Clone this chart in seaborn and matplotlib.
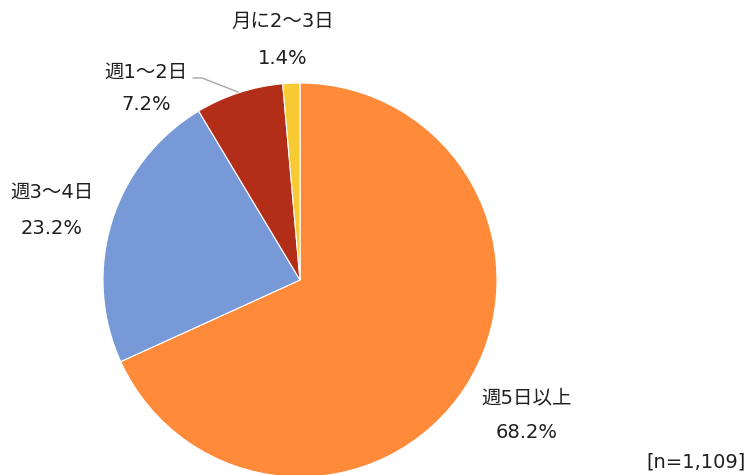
import numpy as np
import matplotlib
matplotlib.use('Agg')
import matplotlib.pyplot as plt
import seaborn as sns

# 勤務頻度の内訳 (n=1,109)
categories = ['週5日以上', '週3～4日', '週1～2日', '月に2～3日']
shares = [68.2, 23.2, 7.2, 1.4]
colors = ['#FF8A3A', '#7799D8', '#B22E18', '#F7C933']
n_label = '[n=1,109]'

sns.set_theme(style='white')
# Verdana-like Latin glyphs, CJK falls through to Noto
plt.rcParams['font.family'] = ['DejaVu Sans', 'Noto Sans CJK JP']

W, H = 750, 475
fig = plt.figure(figsize=(W / 100, H / 100), dpi=100)
ax = fig.add_axes([0, 0, 1, 1])

# pie in pixel space (y measured from bottom)
cx, cy, r = 300, H - 280, 197
ax.pie(shares, colors=sns.color_palette(colors), startangle=90, counterclock=False,
       center=(cx, cy), radius=r,
       wedgeprops={'edgecolor': 'white', 'linewidth': 0.8})
ax.set_xlim(0, W)
ax.set_ylim(0, H)
ax.set_aspect('equal')
ax.axis('off')

# label anchor positions (pixels from top-left)
label_pos = {
    '週5日以上': (527, 398, 433),
    '週3～4日': (52, 192, 228),
    '週1～2日': (146, 72, 104),
    '月に2～3日': (283, 21, 58),
}
fs = 14
for cat, val in zip(categories, shares):
    x, y1, y2 = label_pos[cat]
    ax.text(x, H - y1, cat, ha='center', va='center', fontsize=fs, color='#1f1f1f')
    ax.text(x, H - y2, f'{val:.1f}%', ha='center', va='center', fontsize=fs, color='#1f1f1f')

# leader line for the small slice
ax.plot([193, 202, 238], [H - 78, H - 78, H - 92], color='#A6A6A6', lw=1)

ax.text(746, H - 462, n_label, ha='right', va='center', fontsize=fs, color='#1f1f1f')

plt.savefig('out.png', dpi=100)
plt.close()
